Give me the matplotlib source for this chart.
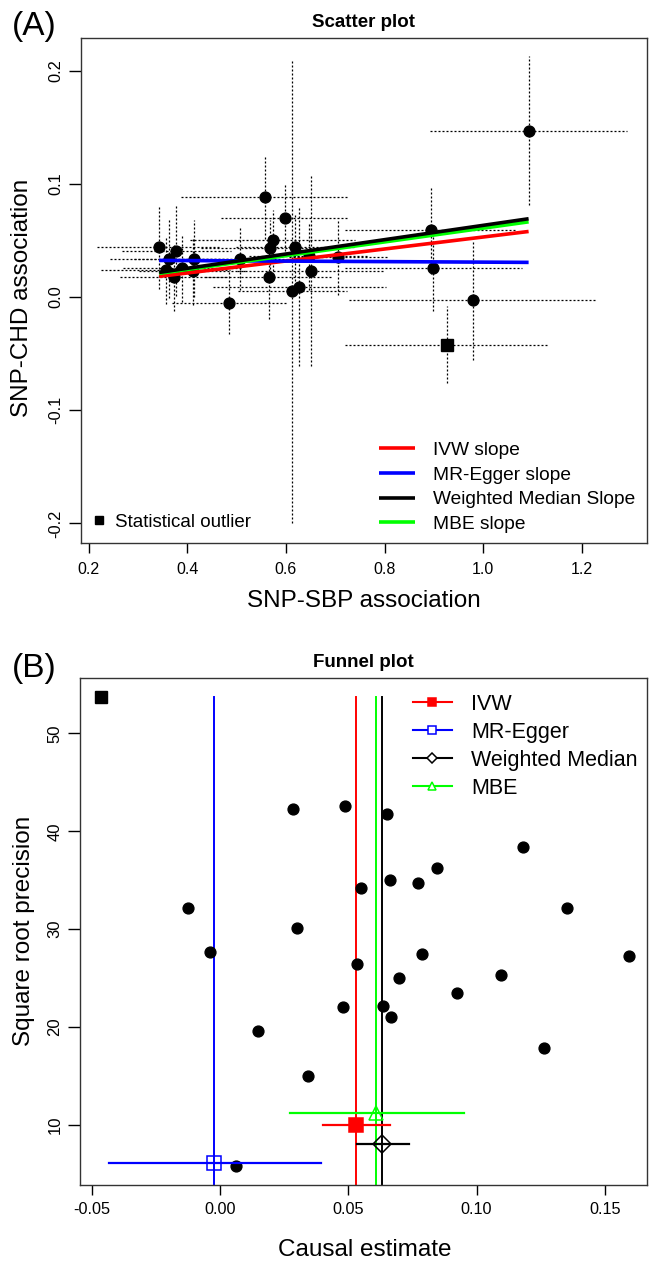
import matplotlib
matplotlib.use("Agg")
import matplotlib.pyplot as plt
from matplotlib.lines import Line2D
import numpy as np

plt.rcParams['font.family'] = ['Liberation Sans', 'DejaVu Sans']

# ---------------- Data: scatter plot (SNP-SBP vs SNP-CHD) ----------------
snp_sbp = [1.092, 0.558, 0.598, 0.894, 0.899, 0.979, 0.485, 0.613, 0.627, 0.650,
           0.618, 0.573, 0.568, 0.566, 0.706, 0.506, 0.413, 0.412, 0.390, 0.378,
           0.364, 0.343, 0.356, 0.373, 0.646]
snp_chd = [0.147, 0.088, 0.070, 0.059, 0.026, -0.003, -0.005, 0.005, 0.009, 0.023,
           0.044, 0.050, 0.043, 0.018, 0.035, 0.034, 0.034, 0.023, 0.026, 0.041,
           0.034, 0.044, 0.024, 0.018, 0.036]
sbp_ci = [0.200, 0.170, 0.130, 0.175, 0.180, 0.252, 0.115, 0.110, 0.175, 0.150,
          0.120, 0.168, 0.140, 0.130, 0.100, 0.100, 0.120, 0.110, 0.120, 0.110,
          0.120, 0.125, 0.130, 0.110, 0.120]
chd_ci = [0.066, 0.037, 0.029, 0.039, 0.038, 0.053, 0.028, 0.205, 0.070, 0.084,
          0.030, 0.027, 0.025, 0.037, 0.033, 0.028, 0.034, 0.030, 0.030, 0.040,
          0.035, 0.037, 0.030, 0.030, 0.030]
outlier_sbp = [0.926]
outlier_chd = [-0.042]
outlier_sbp_ci = [0.207]
outlier_chd_ci = [0.034]

method_names = ["IVW", "MR-Egger", "Weighted Median", "MBE"]
method_colors = ["#FF0000", "#0000FF", "#000000", "#00FF00"]
slopes = [0.053, -0.0023, 0.0633, 0.0608]
intercepts = [0.0, 0.0331, 0.0, 0.0]
slope_labels = ["IVW slope", "MR-Egger slope", "Weighted Median Slope", "MBE slope"]

# ---------------- Data: funnel plot ----------------
causal_est = [0.0286, 0.0486, 0.0652, 0.1182, 0.0847, 0.0664, 0.0771, 0.0548, -0.0124,
              0.1353, 0.0298, -0.0039, 0.0789, 0.1596, 0.0535, 0.1094, 0.0696, 0.0922,
              0.0478, 0.0634, 0.0667, 0.0146, 0.1265, 0.0342, 0.0063]
sqrt_prec = [42.28, 42.58, 41.74, 38.43, 36.22, 35.03, 34.72, 34.21, 32.13,
             32.20, 30.12, 27.70, 27.50, 27.30, 26.48, 25.32, 25.02, 23.45,
             22.08, 22.19, 21.06, 19.57, 17.90, 15.04, 5.84]
outlier_est = [-0.0464]
outlier_prec = [53.75]

summary_est = [0.0530, -0.0023, 0.0633, 0.0608]
summary_lo = [0.0402, -0.0433, 0.0532, 0.0273]
summary_hi = [0.0664, 0.0394, 0.0735, 0.0951]
summary_y = [10.03, 6.09, 8.09, 11.20]
summary_markers = ["s", "s", "D", "^"]
summary_filled = [True, False, False, False]

# ---------------- Figure ----------------
W, H = 651, 1262
fig = plt.figure(figsize=(W / 100, H / 100), dpi=100)

def box(l, r, t, b):
    return [l / W, 1 - b / H, (r - l) / W, (b - t) / H]

ax1 = fig.add_axes(box(80.7, 647, 37.7, 543.3))
ax2 = fig.add_axes(box(80.4, 647, 678, 1185))

dot = (0, (1.6, 1.6))

# ---- scatter plot ----
for x, y, cx, cy in zip(snp_sbp + outlier_sbp, snp_chd + outlier_chd,
                        sbp_ci + outlier_sbp_ci, chd_ci + outlier_chd_ci):
    ax1.plot([x - cx, x + cx], [y, y], color="black", lw=0.9, linestyle=dot, zorder=1)
    ax1.plot([x, x], [y - cy, y + cy], color="black", lw=0.9, linestyle=dot, zorder=1)

ax1.plot(snp_sbp, snp_chd, "o", color="black", markersize=7.8, zorder=3)
ax1.plot(outlier_sbp, outlier_chd, "s", color="black", markersize=8, zorder=3)

xline = np.array([min(snp_sbp), max(snp_sbp)])
line_handles = []
zorders = [4, 5, 7, 6]
for name, col, s, b, zo in zip(slope_labels, method_colors, slopes, intercepts, zorders):
    h, = ax1.plot(xline, b + s * xline, color=col, lw=2.6, zorder=zo,
                  solid_capstyle="butt", label=name)
    line_handles.append(h)

ax1.set_xlim(0.184, 1.332)
ax1.set_ylim(-0.2175, 0.229)
ax1.set_xticks([0.2, 0.4, 0.6, 0.8, 1.0, 1.2])
ax1.set_xticklabels(["0.2", "0.4", "0.6", "0.8", "1.0", "1.2"])
ax1.set_yticks([-0.2, -0.1, 0.0, 0.1, 0.2])
ax1.set_yticklabels(["-0.2", "-0.1", "0.0", "0.1", "0.2"])
ax1.tick_params(axis="x", labelsize=11.5, length=7.5, width=1, pad=6)
ax1.tick_params(axis="y", labelsize=11.8, length=8.5, width=1, pad=4, labelrotation=90)
for t in ax1.get_yticklabels():
    t.set_va("center")
ax1.set_title("Scatter plot", fontsize=13.5, fontweight="bold", pad=8)
ax1.set_xlabel("SNP-SBP association", fontsize=17.5)
ax1.xaxis.set_label_coords(0.5, (543.3 - 601) / 505.6)
ax1.xaxis.label.set_va("center")
ax1.set_ylabel("SNP-CHD association", fontsize=17.5)
ax1.yaxis.set_label_coords((22.5 - 80.7) / 566.3, 0.486)
ax1.yaxis.label.set_va("center")

leg1 = ax1.legend(handles=line_handles, loc="lower left",
                  bbox_to_anchor=((378.5 - 80.7) / 566.3, (543.3 - 533) / 505.6),
                  frameon=False, fontsize=13.8, handlelength=1.9, handletextpad=0.95,
                  labelspacing=0.38, borderpad=0, borderaxespad=0)
ax1.add_artist(leg1)
out_h = Line2D([], [], marker="s", color="black", linestyle="none", markersize=5.5)
ax1.legend(handles=[out_h], labels=["Statistical outlier"], loc="lower left",
           bbox_to_anchor=((93 - 80.7) / 566.3, (543.3 - 531) / 505.6),
           frameon=False, fontsize=13.5, handlelength=0.6, handletextpad=0.55,
           borderpad=0, borderaxespad=0)

# ---- funnel plot ----
ax2.plot(causal_est, sqrt_prec, "o", color="black", markersize=7.8, zorder=3)
ax2.plot(outlier_est, outlier_prec, "s", color="black", markersize=8, zorder=3)

leg_handles = []
for name, col, est, lo, hi, yy, mk, filled in zip(method_names, method_colors, summary_est,
                                                    summary_lo, summary_hi, summary_y,
                                                    summary_markers, summary_filled):
    ax2.plot([est, est], [0, max(outlier_prec)], color=col, lw=1.4, zorder=2)
    ax2.plot([lo, hi], [yy, yy], color=col, lw=1.6, zorder=4)
    ms = 10.5 if mk != "D" else 9
    ax2.plot([est], [yy], marker=mk, linestyle="none", markersize=ms,
             markerfacecolor=col if filled else "none", markeredgecolor=col,
             markeredgewidth=1.1, zorder=5)
    lms = 6 if mk != "D" else 5.5
    leg_handles.append(Line2D([], [], color=col, lw=1.5, marker=mk, markersize=lms,
                              markerfacecolor=col if filled else "white",
                              markeredgecolor=col, markeredgewidth=1.1))

ax2.set_xlim(-0.0545, 0.1665)
ax2.set_ylim(3.87, 55.66)
ax2.set_xticks([-0.05, 0.0, 0.05, 0.10, 0.15])
ax2.set_xticklabels(["-0.05", "0.00", "0.05", "0.10", "0.15"])
ax2.set_yticks([10, 20, 30, 40, 50])
ax2.set_yticklabels(["10", "20", "30", "40", "50"])
ax2.tick_params(axis="x", labelsize=11.7, length=7.5, width=1, pad=5)
ax2.tick_params(axis="y", labelsize=12, length=9, width=1, pad=4, labelrotation=90)
for t in ax2.get_yticklabels():
    t.set_va("center")
ax2.set_title("Funnel plot", fontsize=13.5, fontweight="bold", pad=8)
ax2.set_xlabel("Causal estimate", fontsize=17.5)
ax2.xaxis.set_label_coords(0.501, (1185 - 1250) / 507)
ax2.xaxis.label.set_va("center")
ax2.set_ylabel("Square root precision", fontsize=17.5)
ax2.yaxis.set_label_coords((24 - 80.4) / 566.6, 0.501)
ax2.yaxis.label.set_va("center")

ax2.legend(handles=leg_handles, labels=method_names, loc="upper left",
           bbox_to_anchor=((413 - 80.4) / 566.6, (1185 - 694) / 507),
           frameon=False, fontsize=15.5, handlelength=1.8, handletextpad=0.9,
           labelspacing=0.32, borderpad=0, borderaxespad=0)

for ax in (ax1, ax2):
    for sp in ax.spines.values():
        sp.set_linewidth(1.0)
        sp.set_color("#333333")

fig.text(12 / W, 1 - 27 / H, "(A)", fontsize=24, ha="left", va="center")
fig.text(12 / W, 1 - 669 / H, "(B)", fontsize=24, ha="left", va="center")

fig.savefig("out.png", dpi=100)
